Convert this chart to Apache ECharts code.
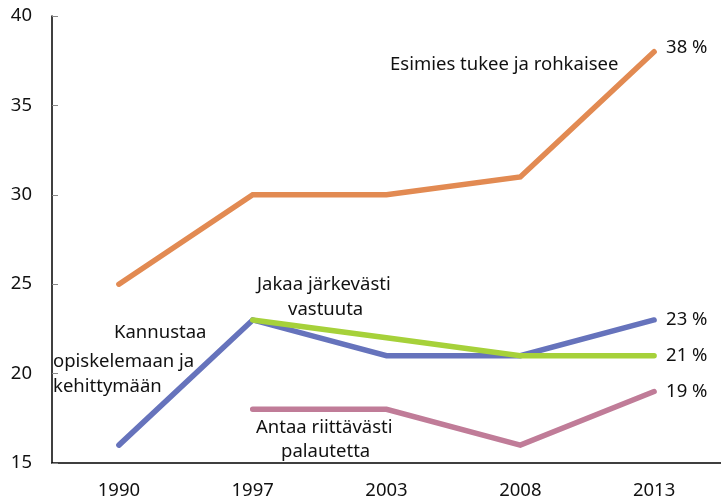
<!DOCTYPE html>
<html>
<head>
<meta charset="utf-8">
<script src="https://cdn.jsdelivr.net/npm/echarts@6/dist/echarts.min.js"></script>
<style>
  html, body { margin: 0; padding: 0; background: #fff; }
  #chart { width: 721px; height: 500px; }
</style>
</head>
<body>
<div id="chart"></div>
<script>
// vuodet
const years = ['1990', '1997', '2003', '2008', '2013']
// osuudet (%)
const tukee = [25, 30, 30, 31, 38]
const kannustaa = [16, 23, 21, 21, 23]
const jakaa = [null, 23, 22, 21, 21]
const palaute = [null, 18, 18, 16, 19]
const yTicks = [15, 20, 25, 30, 35, 40]

const font = '"Noto Sans", sans-serif'
const fs = 18.5

const chart = echarts.init(document.getElementById('chart'))

function lineSeries(name, data, color, endOffset) {
  return {
    name: name,
    type: 'line',
    data: data,
    symbol: 'none',
    connectNulls: false,
    lineStyle: { color: color, width: 5.5, cap: 'round', join: 'miter' },
    itemStyle: { color: color },
    endLabel: {
      show: true,
      formatter: p => p.value + ' %',
      color: '#111',
      fontFamily: font,
      fontSize: fs,
      distance: 12,
      offset: endOffset || [0, 0]
    },
    emphasis: { disabled: true },
    animation: false
  }
}

// nimilaput, x = vasen reuna, y = keskikohta
function txt(x, y, s) {
  return {
    type: 'text', x: x, y: y,
    style: { text: s, fill: '#111', fontFamily: font, fontSize: fs, verticalAlign: 'middle', align: 'left' }
  }
}

chart.setOption({
  grid: { left: 52, right: 0, top: 16, bottom: 37 },
  xAxis: {
    type: 'category',
    data: years,
    boundaryGap: true,
    axisLine: { lineStyle: { color: '#000', width: 1.5 } },
    axisTick: { inside: true, length: 8, lineStyle: { color: '#555' } },
    axisLabel: { color: '#111', fontFamily: font, fontSize: fs, margin: 18 }
  },
  yAxis: {
    type: 'value',
    min: yTicks[0],
    max: yTicks[yTicks.length - 1],
    interval: 5,
    splitLine: { show: false },
    axisLine: { show: true, lineStyle: { color: '#000', width: 1.5 } },
    axisTick: { show: true, inside: true, length: 6, lineStyle: { color: '#888' } },
    axisLabel: { color: '#111', fontFamily: font, fontSize: fs, margin: 20 }
  },
  series: [
    lineSeries('Antaa riittävästi palautetta', palaute, '#C07C98'),
    lineSeries('Kannustaa opiskelemaan ja kehittymään', kannustaa, '#6673BC'),
    lineSeries('Jakaa järkevästi vastuuta', jakaa, '#A6D13A'),
    lineSeries('Esimies tukee ja rohkaisee', tukee, '#E28A52', [0, -4])
  ],
  graphic: [
    txt(390, 65, 'Esimies tukee ja rohkaisee'),
    txt(114, 333, 'Kannustaa'),
    txt(53, 362, 'opiskelemaan ja'),
    txt(53, 387, 'kehittymään'),
    txt(257, 285, 'Jakaa järkevästi'),
    txt(288, 310, 'vastuuta'),
    txt(256, 428, 'Antaa riittävästi'),
    txt(281, 452, 'palautetta')
  ]
})
</script>
</body>
</html>
